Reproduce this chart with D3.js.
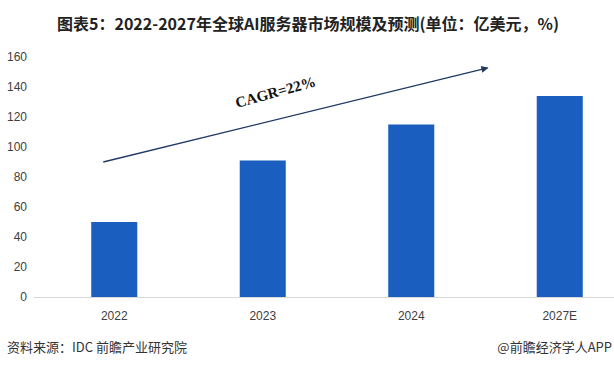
<!DOCTYPE html>
<html>
<head>
<meta charset="utf-8">
<script src="https://cdn.jsdelivr.net/npm/d3@7/dist/d3.min.js"></script>
<style>
  html, body { margin: 0; padding: 0; background: #fff; }
  svg { display: block; }
</style>
</head>
<body>
<svg id="chart" width="614" height="368"></svg>
<script>
const titleText = "图表5：2022-2027年全球AI服务器市场规模及预测(单位：亿美元，%)";
const categories = ["2022", "2023", "2024", "2027E"];
const marketSize = [50, 91, 115, 134];
const yTicks = [0, 20, 40, 60, 80, 100, 120, 140, 160];
const cagrLabel = "CAGR=22%";
const sourceText = "资料来源：IDC 前瞻产业研究院";
const brandText = "@前瞻经济学人APP";

const svg = d3.select("#chart");
const W = 614, H = 368;
svg.append("rect").attr("width", W).attr("height", H).attr("fill", "#fff");

const y = d3.scaleLinear().domain([0, 160]).range([297, 57]);
const x = d3.scaleBand().domain(categories).range([40, 634])
  .paddingInner(0.69).paddingOuter(0.345);

// title
svg.append("text")
  .attr("x", 308).attr("y", 30)
  .attr("text-anchor", "middle")
  .attr("font-family", "'Noto Sans CJK SC', 'Noto Sans', sans-serif")
  .attr("font-weight", "bold")
  .attr("font-size", 16)
  .attr("fill", "#222")
  .text(titleText);

// y axis labels
const yAxis = d3.axisLeft(y).tickValues(yTicks).tickSize(0).tickPadding(0);
const yg = svg.append("g").attr("transform", "translate(27,0)").call(yAxis);
yg.select(".domain").remove();
yg.selectAll("text")
  .attr("font-family", "'Liberation Sans', Arial, sans-serif")
  .attr("font-size", 12)
  .attr("fill", "#404040");

// bars
svg.append("g").selectAll("rect")
  .data(categories.map((c, i) => ({ c, v: marketSize[i] })))
  .join("rect")
  .attr("x", d => x(d.c))
  .attr("y", d => y(d.v))
  .attr("width", x.bandwidth())
  .attr("height", d => y(0) - y(d.v))
  .attr("fill", "#1a5fbf");

// x axis
const xAxis = d3.axisBottom(x).tickSize(0).tickPadding(14);
const xg = svg.append("g").attr("transform", `translate(0,${y(0)})`).call(xAxis);
xg.select(".domain").remove();
svg.append("line")
  .attr("x1", 34).attr("x2", 614)
  .attr("y1", y(0) + 0.5).attr("y2", y(0) + 0.5)
  .attr("stroke", "#d9d9d9").attr("stroke-width", 1);
xg.selectAll("text")
  .attr("font-family", "'Liberation Sans', Arial, sans-serif")
  .attr("font-size", 12)
  .attr("fill", "#404040");

// CAGR arrow
const defs = svg.append("defs");
defs.append("marker")
  .attr("id", "arrow")
  .attr("viewBox", "0 0 10 10")
  .attr("refX", 9).attr("refY", 5)
  .attr("markerWidth", 9).attr("markerHeight", 7)
  .attr("markerUnits", "userSpaceOnUse")
  .attr("orient", "auto")
  .append("path").attr("d", "M0,0 L10,5 L0,10 Z").attr("fill", "#1f3864");

const ax0 = x(categories[0]) + 12, ay0 = y(90);
const ax1 = x(categories[3]) - 49, ay1 = y(152.7);
svg.append("line")
  .attr("x1", ax0).attr("y1", ay0)
  .attr("x2", ax1).attr("y2", ay1)
  .attr("stroke", "#1f3864").attr("stroke-width", 1.3)
  .attr("marker-end", "url(#arrow)");

svg.append("text")
  .attr("transform", "translate(237,108) rotate(-15.5)")
  .attr("font-family", "'Liberation Serif', 'Times New Roman', serif")
  .attr("font-weight", "bold")
  .attr("font-size", 15)
  .attr("fill", "#111")
  .text(cagrLabel);

// footer
svg.append("text")
  .attr("x", 7).attr("y", 352)
  .attr("font-family", "'Noto Sans CJK SC', sans-serif")
  .attr("font-size", 13)
  .attr("fill", "#333")
  .text(sourceText);
svg.append("text")
  .attr("x", 612).attr("y", 352)
  .attr("text-anchor", "end")
  .attr("font-family", "'Noto Sans CJK SC', sans-serif")
  .attr("font-size", 13)
  .attr("fill", "#333")
  .text(brandText);
</script>
</body>
</html>
